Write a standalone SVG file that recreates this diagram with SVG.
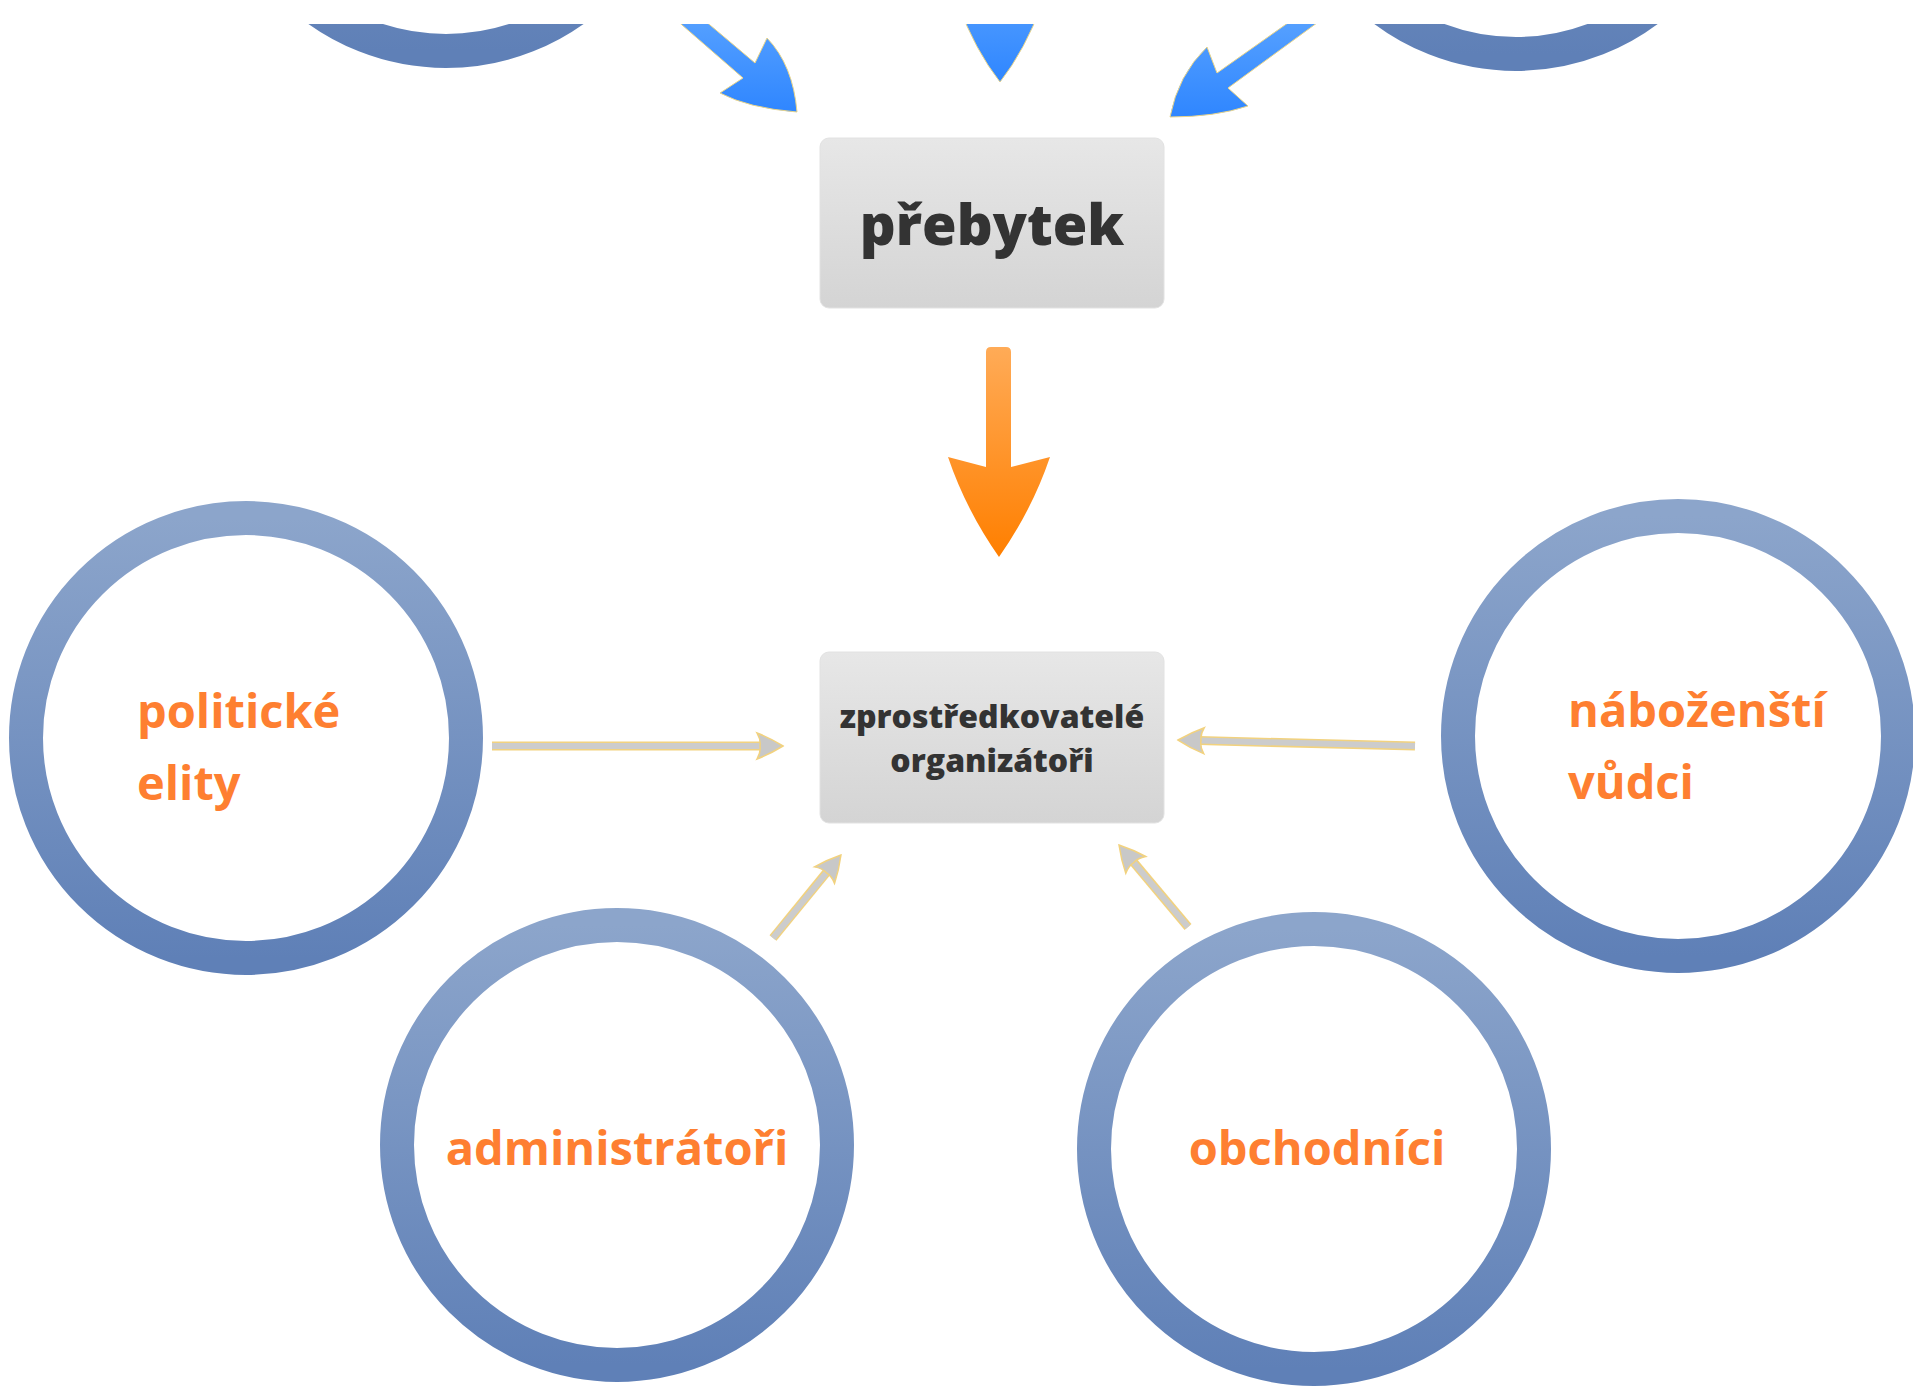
<svg xmlns="http://www.w3.org/2000/svg" width="1913" height="1387" viewBox="0 0 1913 1387">
<defs>
<style>
.ring{fill:none;stroke:url(#ringGrad);stroke-width:34}
.lbl{font-family:"Open Sans","Liberation Sans",sans-serif;font-weight:700;font-size:47px;fill:#fe7f31}
.box{fill:url(#boxGrad);stroke:#e2e2e2;stroke-width:1}
.boxtxt{font-family:"Open Sans","Liberation Sans",sans-serif;font-weight:800;fill:#333333;text-anchor:middle}
.conOut{fill:none;stroke:#f2d27e;stroke-width:9}
.conIn{fill:none;stroke:#cccccc;stroke-width:6;marker-end:url(#head)}
.blue{fill:url(#blueGrad);stroke:#e8d48a;stroke-width:1}
</style>
<linearGradient id="ringGrad" x1="0" y1="0" x2="0" y2="1">
<stop offset="0" stop-color="#8ca5cb"/>
<stop offset="1" stop-color="#5f80b7"/>
</linearGradient>
<linearGradient id="boxGrad" x1="0" y1="0" x2="0" y2="1">
<stop offset="0" stop-color="#e7e7e7"/>
<stop offset="1" stop-color="#d4d4d4"/>
</linearGradient>
<linearGradient id="orangeGrad" x1="0" y1="0" x2="0" y2="1">
<stop offset="0" stop-color="#ffab57"/>
<stop offset="1" stop-color="#ff7f00"/>
</linearGradient>
<linearGradient id="blueGrad" x1="0" y1="0" x2="0" y2="1">
<stop offset="0" stop-color="#5ea6ff"/>
<stop offset="1" stop-color="#2f86ff"/>
</linearGradient>
<marker id="head" markerUnits="userSpaceOnUse" viewBox="0 0 30 30" refX="5" refY="15" markerWidth="30" markerHeight="30" orient="auto">
<path d="M28,15 Q15,7 2,2 Q6,9 5,15 Q6,21 2,28 Q15,23 28,15 Z" fill="#c8c8c8" stroke="#f2d27e" stroke-width="1.5"/>
</marker>
<clipPath id="view"><rect x="0" y="24" width="1913" height="1363"/></clipPath>
</defs>
<rect x="0" y="0" width="1913" height="1387" fill="#ffffff"/>
<g clip-path="url(#view)">
<g id="top-circle-left"><circle class="ring" cx="446" cy="-169" r="220"/></g>
<g id="top-circle-right"><circle class="ring" cx="1516" cy="-166" r="220"/></g>

<g id="node-prebytek">
<rect class="box" x="820" y="138" width="344" height="170" rx="9"/>
<text class="boxtxt" x="992" y="245" font-size="56">přebytek</text>
</g>

<g id="node-zprostredkovatele">
<rect class="box" x="820" y="652" width="344" height="171" rx="9"/>
<text class="boxtxt" x="992" y="728" font-size="32">zprostředkovatelé</text>
<text class="boxtxt" x="992" y="772" font-size="32">organizátoři</text>
</g>

<g id="node-politicke-elity">
<circle class="ring" cx="246" cy="738" r="220"/>
<text class="lbl" x="137" y="728">politické</text>
<text class="lbl" x="137" y="800">elity</text>
</g>

<g id="node-nabozensti-vudci">
<circle class="ring" cx="1678" cy="736" r="220"/>
<text class="lbl" x="1568" y="727">náboženští</text>
<text class="lbl" x="1568" y="799">vůdci</text>
</g>

<g id="node-administratori">
<circle class="ring" cx="617" cy="1145" r="220"/>
<text class="lbl" x="617" y="1165" text-anchor="middle">administrátoři</text>
</g>

<g id="node-obchodnici">
<circle class="ring" cx="1314" cy="1149" r="220"/>
<text class="lbl" x="1317" y="1165" text-anchor="middle">obchodníci</text>
</g>

<g id="connectors">
<path class="blue" d="M651,-2 L743,78 L720,93 Q748,108 797,112 Q793,65 767,38 L755,63 L678,-2 Z"/>
<path class="blue" d="M990,-40 L990,4 L958,4 Q975,50 1000,82 Q1025,50 1042,4 L1010,4 L1010,-40 Z"/>
<path class="blue" d="M1319,1 L1217,73 L1207,47 Q1178,75 1170,117 Q1215,117 1248,106 L1228,88 L1347,1 Z"/>
<path d="M986,352 Q986,347 991,347 L1006,347 Q1011,347 1011,352 L1011,467 L1050,457 Q1032,510 999,557 Q966,510 948,457 L986,467 Z" fill="url(#orangeGrad)"/>
<line class="conOut" x1="492" y1="746" x2="762" y2="746"/>
<line class="conIn" x1="492" y1="746" x2="760" y2="746"/>
<line class="conOut" x1="1415" y1="746" x2="1199" y2="740.6"/>
<line class="conIn" x1="1415" y1="746" x2="1201" y2="740.6"/>
<line class="conOut" x1="773" y1="938" x2="827.6" y2="871.2"/>
<line class="conIn" x1="773" y1="938" x2="826.4" y2="872.8"/>
<line class="conOut" x1="1188" y1="927" x2="1132.6" y2="861"/>
<line class="conIn" x1="1188" y1="927" x2="1133.8" y2="862.6"/>
</g>
</g>
</svg>
